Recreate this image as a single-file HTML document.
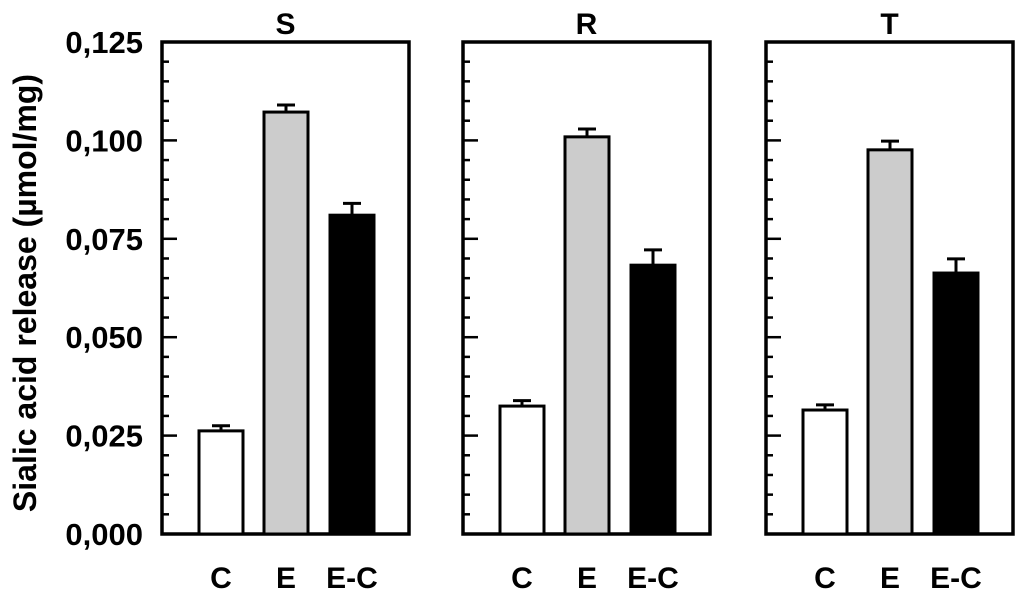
<!DOCTYPE html>
<html><head><meta charset="utf-8"><style>
body{margin:0;background:#fff}
svg text{font-family:"Liberation Sans",Arial,sans-serif;font-weight:bold;fill:#000}
</style></head><body>
<svg id="c" width="1024" height="593"></svg>
<script>
const panels=["S","R","T"];
const categories=["C","E","E-C"];
const valuesS=[0.0262,0.1072,0.081];
const errS=[0.0013,0.0018,0.003];
const valuesR=[0.0325,0.1009,0.0683];
const errR=[0.0014,0.002,0.0039];
const valuesT=[0.0315,0.0976,0.0663];
const errT=[0.0013,0.0022,0.0036];
const yTicks=["0,000","0,025","0,050","0,075","0,100","0,125"];
const yTickVals=[0,0.025,0.05,0.075,0.1,0.125];
const values=[valuesS,valuesR,valuesT],errs=[errS,errR,errT];
const fills=["#fff","#cccccc","#000"];
const lefts=[162,463,766],W=247,top0=42,bot=534,ymax=0.125;
const NS="http://www.w3.org/2000/svg",svg=document.getElementById('c');
function y(v){return bot-v/ymax*(bot-top0);}
function mk(t,a,p){const e=document.createElementNS(NS,t);for(const k in a)e.setAttribute(k,a[k]);(p||svg).appendChild(e);return e;}
const rel=[59,124,190],bw=44;
panels.forEach((p,pi)=>{
  const L=lefts[pi];
  const g=mk('g',{});
  
  
  const fr=mk('rect',{x:L,y:top0,width:W,height:bot-top0,fill:'none',stroke:'#000','stroke-width':3.5},g);
  
  
  const t=mk('text',{x:L+W/2,y:34,'text-anchor':'middle','font-size':30},g);t.textContent=p;
  
  
  for(let i=0;i<=25;i++){const v=i*0.005,yy=y(v),len=i%5==0?15:7;
    mk('line',{x1:L,x2:L+len,y1:yy,y2:yy,stroke:'#000','stroke-width':2.5},g);}
  categories.forEach((c,ci)=>{
    const cx=L+rel[ci],v=values[pi][ci],e=errs[pi][ci];
    mk('line',{x1:cx,x2:cx,y1:y(v),y2:y(v+e),stroke:'#000','stroke-width':3},g);
    mk('line',{x1:cx-9,x2:cx+9,y1:y(v+e),y2:y(v+e),stroke:'#000','stroke-width':3},g);
    const b=mk('rect',{x:cx-bw/2,y:y(v),width:bw,height:bot-y(v),fill:fills[ci],stroke:'#000','stroke-width':3},g);
    
    
    const tl=mk('text',{x:cx,y:588,'text-anchor':'middle','font-size':30},g);tl.textContent=c;
    
    
  });
});
yTicks.forEach((s,i)=>{const t=mk('text',{x:143,y:y(yTickVals[i])+11,'text-anchor':'end','font-size':31});t.textContent=s;
  
  });
const yt=mk('text',{x:0,y:0,'text-anchor':'middle','font-size':32,transform:'translate(36,293) rotate(-90)'});
yt.textContent="Sialic acid release (µmol/mg)";


</script>
</body></html>
